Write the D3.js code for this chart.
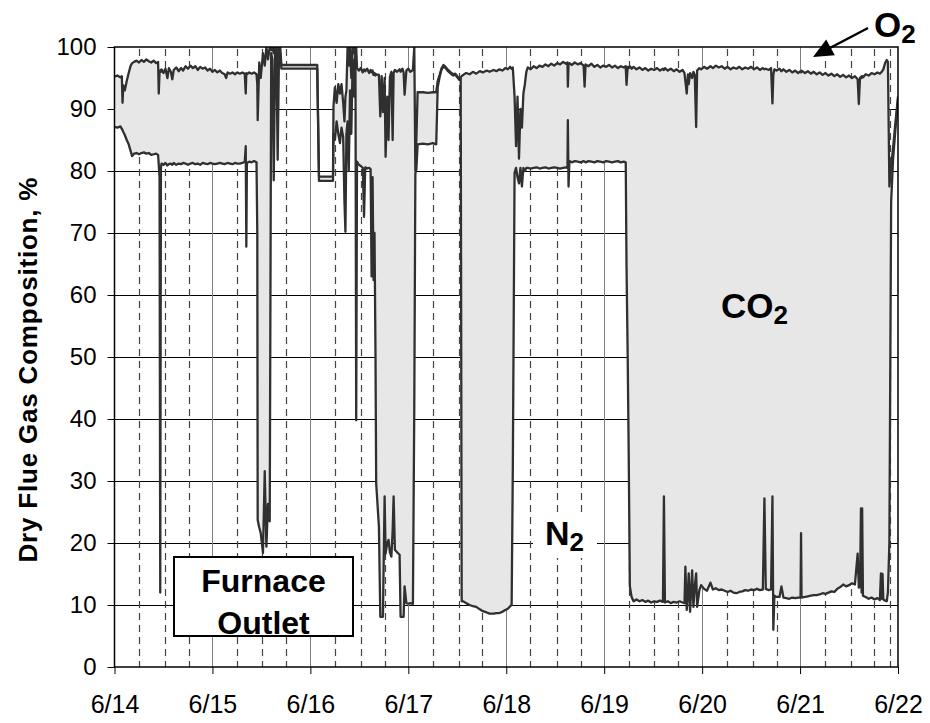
<!DOCTYPE html>
<html><head><meta charset="utf-8">
<script src="https://cdn.jsdelivr.net/npm/d3@7"></script>
<style>body{margin:0;background:#fff}svg{display:block}text{font-family:"Liberation Sans",Arial,sans-serif}</style>
</head><body><svg id="c" width="930" height="723"></svg>
<script>
// time in days after 6/14 00:00
const timeDays = [
0.000,0.030,0.060,0.075,0.082,0.090,0.105,0.125,0.145,0.165,0.180,0.200,0.225,0.250,0.275,0.300,0.325,0.350,0.375,0.400,0.425,0.445,0.452,0.460,0.467,0.474,0.480,
0.500,0.520,0.540,0.555,0.575,0.590,0.605,0.630,0.655,0.680,0.700,0.725,0.750,0.775,0.800,0.825,0.850,0.875,0.900,0.925,0.950,0.975,1.000,1.025,1.050,1.075,1.100,1.125,1.140,1.155,1.180,1.205,1.230,1.255,1.280,1.305,1.330,1.340,1.346,1.352,1.375,1.400,1.425,1.450,
1.458,1.462,1.478,1.493,1.516,1.534,1.551,1.567,1.585,1.600,1.612,1.626,1.640,1.653,1.666,1.680,1.692,1.704,
2.070,2.088,2.231,
2.236,2.250,2.268,2.285,2.302,2.318,2.335,2.348,2.358,2.368,2.380,2.392,2.405,2.418,2.432,2.448,2.460,2.468,2.476,
2.495,2.515,2.535,2.548,2.560,2.580,2.600,2.615,2.625,2.635,2.645,2.655,2.665,2.672,2.700,2.714,2.728,2.741,2.758,2.768,2.785,2.798,2.812,2.827,2.840,2.850,2.863,2.885,2.911,2.921,2.940,2.952,2.962,2.980,3.000,3.020,3.047,3.061,3.072,3.082,3.095,
3.150,3.200,3.250,3.285,3.300,3.320,3.340,3.360,3.380,3.400,3.420,3.440,3.460,3.480,3.500,3.520,3.535,3.545,
3.560,3.590,3.626,3.660,3.694,3.730,3.761,3.800,3.830,3.870,3.900,3.930,3.960,3.990,4.016,4.040,4.055,4.067,
4.085,4.100,4.115,4.130,4.145,4.160,4.175,4.190,4.205,4.220,
4.250,4.280,4.310,4.340,4.370,4.400,4.430,4.460,4.490,4.520,4.550,4.580,4.610,4.625,4.629,4.636,4.645,4.670,4.700,4.730,4.760,4.790,4.800,4.810,4.840,4.870,4.900,4.930,4.960,4.990,5.020,5.050,5.080,5.110,5.140,5.170,5.200,5.220,5.228,5.240,5.250,5.262,5.280,5.300,
5.330,5.360,5.390,5.420,5.450,5.480,5.510,5.540,5.570,5.600,5.610,5.620,5.650,5.680,5.710,5.740,5.770,5.800,5.820,5.829,5.843,5.855,5.863,5.877,5.898,5.911,5.925,5.939,5.949,5.972,5.990,
6.020,6.050,6.085,6.110,6.140,6.170,6.200,6.230,6.260,6.290,6.320,6.350,6.380,6.410,6.440,6.470,6.500,6.530,6.560,6.590,6.620,6.636,6.650,6.680,6.704,6.718,6.727,6.738,6.760,6.790,6.810,6.830,6.860,6.890,6.920,6.950,6.980,7.005,7.010,7.015,7.050,7.080,7.110,7.140,7.170,7.200,7.230,7.260,7.290,7.320,7.350,7.380,7.410,7.440,7.470,7.500,7.530,7.560,7.588,7.600,7.612,7.622,7.628,7.634,7.642,7.670,7.700,7.730,7.760,7.790,7.815,7.826,7.834,7.842,7.850,7.870,7.885,7.897,7.912,7.930,7.950,7.975,8.000
];
// N2 (lower line), %
const n2 = [
87.1,87.0,87.2,86.8,86.6,86.3,85.8,85.0,84.3,83.2,82.4,82.8,82.9,82.7,82.9,83.0,82.8,82.9,82.6,82.7,82.8,82.6,81.0,79.0,12.0,80.5,81.2,
81.0,81.3,80.9,81.1,81.2,81.0,81.3,81.0,81.2,81.1,81.3,81.2,81.0,81.2,81.3,81.1,81.2,81.0,81.3,81.2,81.1,81.3,81.2,81.1,81.2,81.3,81.2,81.1,81.2,81.3,81.2,81.1,81.3,81.2,81.2,81.3,81.5,84.0,67.8,81.3,81.5,81.4,81.6,81.4,
70.0,23.7,22.5,21.6,18.4,31.6,19.4,26.3,23.5,99.0,98.0,78.5,99.0,100,81.8,99.5,99.0,96.5,
96.5,78.4,78.4,
86.0,85.0,88.0,86.0,84.5,87.0,85.5,75.0,70.2,86.0,88.0,80.0,93.0,86.0,98.0,92.0,100,39.8,81.5,
81.0,80.8,80.5,72.6,80.6,80.4,80.5,80.3,63.0,79.0,62.4,70.0,50.0,29.6,22.6,8.1,8.1,8.1,27.5,18.3,20.0,20.5,18.5,17.8,22.0,27.5,18.9,18.5,18.1,8.1,8.1,8.1,13.0,10.3,10.2,10.3,10.2,42.0,79.6,80.2,84.3,
84.4,84.3,84.5,84.3,93.5,95.2,96.4,96.9,96.6,96.2,95.9,95.6,95.4,95.5,95.1,94.7,94.9,10.6,
10.6,10.3,10.0,9.8,9.7,9.3,9.0,8.8,8.6,8.6,8.7,8.7,8.9,9.2,9.4,9.8,10.0,31.9,
79.7,80.5,79.0,78.0,80.5,77.5,80.5,80.0,80.5,80.5,
80.4,80.5,80.6,80.4,80.5,80.6,80.4,80.5,80.6,80.5,80.4,80.5,80.6,80.5,88.2,77.5,81.6,81.4,81.6,81.5,81.4,81.6,81.5,81.4,81.6,81.5,81.4,81.6,81.5,81.4,81.6,81.5,81.4,81.5,81.6,81.4,81.5,81.4,64.8,50.0,35.0,13.0,11.3,10.6,
10.9,10.6,10.8,10.5,10.7,10.4,10.6,10.5,10.7,10.5,27.5,10.4,10.6,10.3,10.5,10.4,10.6,10.4,10.3,16.2,9.2,12.0,15.1,8.9,15.6,9.7,13.0,15.1,9.7,12.4,13.2,
12.6,12.3,13.6,12.5,12.7,12.4,12.5,12.3,12.1,12.3,12.0,11.9,12.1,12.2,12.4,12.3,12.5,12.4,12.6,12.4,12.5,27.2,12.6,12.4,12.5,27.5,6.0,11.5,11.3,11.3,13.0,11.2,11.1,11.0,11.2,11.1,11.2,11.2,21.6,11.2,11.3,11.4,11.5,11.6,11.6,11.7,11.9,11.8,12.0,12.2,12.1,12.6,12.9,13.3,13.0,13.2,13.5,13.3,18.3,12.8,13.0,25.6,12.0,25.6,11.5,11.3,11.0,11.2,10.9,11.1,10.8,15.1,11.0,15.0,10.9,10.7,10.6,12.0,20.0,75.0,82.0,87.0,91.5
];
// N2 + CO2 (upper line, 100 - O2), %
const n2PlusCo2 = [
95.2,95.4,95.1,95.3,91.0,93.8,93.0,94.5,95.8,97.0,97.4,97.6,97.8,97.5,97.9,97.6,98.0,97.7,97.5,97.8,97.4,97.6,92.5,96.0,96.2,96.0,96.4,
95.8,96.5,95.0,96.6,96.0,94.8,96.3,96.7,96.1,96.6,96.2,96.9,96.5,97.0,96.6,96.9,96.3,96.8,96.5,96.7,96.2,96.5,96.0,96.3,95.9,96.2,95.8,95.6,95.0,95.9,95.7,95.9,95.6,95.9,95.7,95.9,95.7,92.5,95.8,95.6,95.9,95.7,95.9,95.6,
94.0,88.2,97.5,95.0,99.0,97.0,100,98.0,100,99.5,100,99.0,100,100,97.0,100,100,97.1,
97.1,79.1,79.1,
90.4,93.5,91.0,94.0,92.5,94.0,91.0,88.0,92.0,93.0,100,97.0,100,95.0,100,99.0,100,100,96.6,
96.2,96.6,95.9,96.4,96.1,96.5,95.8,96.3,95.9,96.2,95.5,95.8,95.4,95.6,95.5,88.8,95.3,89.5,95.0,82.3,92.0,85.0,95.2,96.0,85.0,95.8,96.3,96.0,96.4,96.0,96.5,95.9,92.3,96.2,96.5,96.0,96.3,100,80.0,85.0,92.7,
92.7,92.6,92.7,92.7,94.5,95.5,96.6,97.1,96.8,96.4,96.1,95.8,95.6,95.7,95.3,94.9,95.1,95.3,
95.5,95.8,95.6,96.0,95.7,96.1,95.9,96.2,96.0,96.3,96.1,96.4,96.2,96.6,96.4,96.8,96.5,96.7,
92.0,84.0,92.0,82.0,90.0,87.0,92.5,94.0,96.0,96.7,
96.4,96.9,96.6,97.0,96.8,97.2,96.9,97.3,97.0,97.4,97.2,97.6,97.3,97.5,93.6,97.2,97.4,97.1,97.5,97.2,97.4,97.0,93.6,97.2,96.9,97.3,96.8,97.1,96.7,97.0,96.8,97.1,96.7,97.0,96.6,96.9,96.7,96.9,93.9,96.8,96.6,96.9,96.5,96.8,
96.4,96.7,96.3,96.6,96.2,96.5,96.3,96.6,96.2,96.5,96.3,96.6,96.2,96.5,96.1,96.4,96.0,96.3,95.8,94.5,92.5,95.6,94.0,95.8,95.0,96.0,95.5,87.1,96.2,96.6,96.4,
96.8,96.5,96.9,96.6,97.0,96.7,96.9,96.5,96.8,96.4,96.7,96.5,96.8,96.4,96.7,96.5,96.8,96.4,96.7,96.3,96.6,96.4,96.5,96.3,96.6,90.9,95.5,96.4,96.2,96.5,96.1,96.4,96.0,96.3,95.9,96.2,95.8,96.1,95.9,96.2,95.8,96.1,95.7,96.0,95.6,95.9,95.5,95.8,95.4,95.7,95.3,95.6,95.2,95.5,95.1,95.4,95.0,95.3,94.8,90.8,95.0,95.2,95.0,95.3,95.1,95.6,95.4,95.8,95.6,95.9,95.7,95.9,96.0,96.2,96.4,97.5,97.9,97.6,77.5,80.5,83.8,88.0,92.0
];
const xTickLabels = ["6/14","6/15","6/16","6/17","6/18","6/19","6/20","6/21","6/22"];
const yTickValues = [0,10,20,30,40,50,60,70,80,90,100];
const dayLines = [1,2,3,4,5,6,7];
const dashedMarks = [0.25,0.515,0.76,1.25,1.51,1.755,2.25,2.515,2.76,3.25,3.515,3.755,4.245,4.515,4.76,5.25,5.51,5.75,6.25,6.515,6.76,7.255,7.515,7.76,7.92];

if (timeDays.length !== n2.length || timeDays.length !== n2PlusCo2.length) {
  throw new Error("length mismatch " + timeDays.length + " " + n2.length + " " + n2PlusCo2.length);
}
const data = timeDays.map((t, i) => ({t, lo: n2[i], hi: n2PlusCo2[i]}));

const L = 114.5, R = 898, T = 47, B = 667;
const svg = d3.select("#c");
const x = d3.scaleLinear().domain([0, 8]).range([L, R]);
const y = d3.scaleLinear().domain([0, 100]).range([B, T]);

svg.append("defs").append("clipPath").attr("id", "clip")
  .append("rect").attr("x", L).attr("y", T).attr("width", R - L).attr("height", B - T);

const g = svg.append("g");
g.selectAll(".hg").data(yTickValues.filter(v => v > 0 && v < 100)).enter().append("line")
  .attr("x1", L).attr("x2", R).attr("y1", d => Math.round(y(d)) + 0.5).attr("y2", d => Math.round(y(d)) + 0.5)
  .attr("stroke", "#000").attr("stroke-width", 1);
g.selectAll(".vg").data(dayLines).enter().append("line")
  .attr("x1", d => Math.round(x(d)) + 0.5).attr("x2", d => Math.round(x(d)) + 0.5).attr("y1", T).attr("y2", B)
  .attr("stroke", "#808080").attr("stroke-width", 1);
g.selectAll(".dg").data(dashedMarks).enter().append("line")
  .attr("x1", d => Math.round(x(d)) + 0.5).attr("x2", d => Math.round(x(d)) + 0.5).attr("y1", T + 2).attr("y2", B)
  .attr("stroke", "#444").attr("stroke-width", 1.2).attr("stroke-dasharray", "7,5");

const plot = svg.append("g").attr("clip-path", "url(#clip)");
plot.append("path").datum(data)
  .attr("d", d3.area().x(d => x(d.t)).y0(d => y(d.lo)).y1(d => y(d.hi)))
  .attr("fill", "#e7e7e7");
["lo", "hi"].forEach(k => {
  plot.append("path").datum(data)
    .attr("d", d3.line().x(d => x(d.t)).y(d => y(d[k])))
    .attr("fill", "none").attr("stroke", "#303030").attr("stroke-width", 2.3)
    .attr("stroke-linejoin", "round");
});

svg.append("rect").attr("x", L).attr("y", T).attr("width", R - L).attr("height", B - T)
  .attr("fill", "none").attr("stroke", "#000").attr("stroke-width", 1.5);

const yAxis = svg.append("g").attr("transform", `translate(${L},0)`)
  .call(d3.axisLeft(y).tickValues(yTickValues).tickSize(7).tickPadding(11).tickFormat(d3.format("d")));
yAxis.select(".domain").remove();
yAxis.selectAll("text").attr("font-size", 24).attr("fill", "#000").attr("font-family", "Liberation Sans, Arial, sans-serif");
yAxis.selectAll("line").attr("stroke", "#000");

const xAxis = svg.append("g").attr("transform", `translate(0,${B})`)
  .call(d3.axisBottom(x).tickValues(d3.range(xTickLabels.length)).tickSize(7).tickPadding(21)
    .tickFormat(i => xTickLabels[i]));
xAxis.select(".domain").remove();
xAxis.selectAll("text").attr("font-size", 25).attr("fill", "#000").attr("font-family", "Liberation Sans, Arial, sans-serif");
xAxis.selectAll("line").attr("stroke", "#000");

svg.append("text").attr("transform", "translate(37,370) rotate(-90)")
  .attr("text-anchor", "middle").attr("font-size", 26).attr("font-weight", "bold")
  .attr("textLength", 385).attr("lengthAdjust", "spacing")
  .text("Dry Flue Gas Composition, %");

svg.append("rect").attr("x", 174).attr("y", 557).attr("width", 179).attr("height", 79)
  .attr("fill", "#fff").attr("stroke", "#000").attr("stroke-width", 2);
svg.append("text").attr("x", 263.5).attr("y", 592).attr("text-anchor", "middle")
  .attr("font-size", 32).attr("font-weight", "bold").text("Furnace");
svg.append("text").attr("x", 263.5).attr("y", 634).attr("text-anchor", "middle")
  .attr("font-size", 32).attr("font-weight", "bold").text("Outlet");

svg.append("rect").attr("x", 533).attr("y", 512).attr("width", 64).attr("height", 46).attr("fill", "#fff");
const n2t = svg.append("text").attr("x", 545).attr("y", 545).attr("font-weight", "bold").attr("font-size", 34);
n2t.append("tspan").text("N");
n2t.append("tspan").attr("font-size", 26).attr("dy", 6).text("2");

const co2t = svg.append("text").attr("x", 721).attr("y", 318).attr("font-weight", "bold").attr("font-size", 35);
co2t.append("tspan").text("CO");
co2t.append("tspan").attr("font-size", 26).attr("dy", 6).text("2");

const o2t = svg.append("text").attr("x", 874).attr("y", 37).attr("font-weight", "bold").attr("font-size", 35);
o2t.append("tspan").text("O");
o2t.append("tspan").attr("font-size", 26).attr("dy", 6).text("2");
svg.append("line").attr("x1", 868).attr("y1", 28).attr("x2", 828).attr("y2", 49)
  .attr("stroke", "#000").attr("stroke-width", 2.5);
svg.append("path").attr("d", "M813,57 L834.8,55.3 L826.2,39.5 Z").attr("fill", "#000");
</script></body></html>
